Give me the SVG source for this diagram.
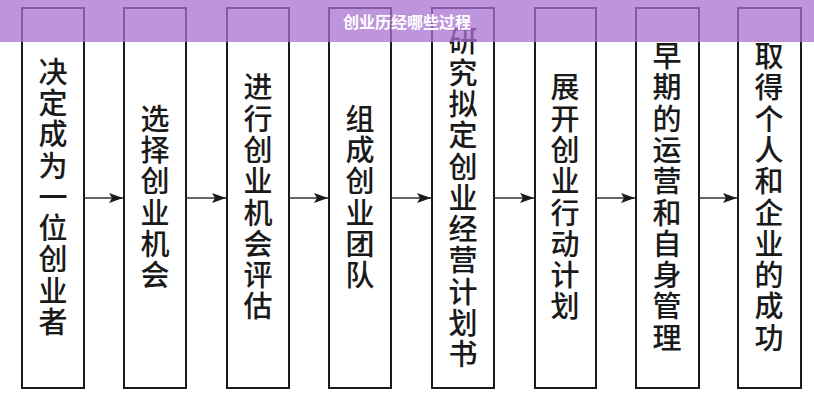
<svg xmlns="http://www.w3.org/2000/svg" width="814" height="400" viewBox="0 0 814 400">
<style>
.box{fill:#fff;stroke:#1a1a1a;stroke-width:2}
.lbl{font-family:"Noto Sans CJK SC","Noto Sans",sans-serif;font-size:29px;font-weight:500;fill:#1a1a1a;writing-mode:vertical-rl;text-anchor:middle;letter-spacing:2.3px}
.conn{stroke:#333;stroke-width:1.6;fill:none}
.title{font-family:"Noto Sans CJK SC","Noto Sans",sans-serif;font-size:16px;font-weight:bold;fill:#fff;text-anchor:middle}
</style>
<defs>
<marker id="ah" viewBox="0 0 14 10" refX="14" refY="5" markerWidth="14" markerHeight="10" markerUnits="userSpaceOnUse" orient="auto">
<path d="M0,0 L14,5 L0,10 L3,5 Z" fill="#1a1a1a"/>
</marker>
</defs>
<rect width="814" height="400" fill="#fff"/>
<g id="n1"><rect class="box" x="22" y="8" width="62" height="380"/><text class="lbl" x="53" y="198">决定成为一位创业者</text></g>
<g id="n2"><rect class="box" x="124" y="8" width="62" height="380"/><text class="lbl" x="155" y="198">选择创业机会</text></g>
<g id="n3"><rect class="box" x="227" y="8" width="62" height="380"/><text class="lbl" x="258" y="198">进行创业机会评估</text></g>
<g id="n4"><rect class="box" x="329" y="8" width="62" height="380"/><text class="lbl" x="360" y="198">组成创业团队</text></g>
<g id="n5"><rect class="box" x="432" y="8" width="62" height="380"/><text class="lbl" x="463" y="199">研究拟定创业经营计划书</text></g>
<g id="n6"><rect class="box" x="535" y="8" width="61" height="380"/><text class="lbl" x="565" y="198">展开创业行动计划</text></g>
<g id="n7"><rect class="box" x="636" y="8" width="63" height="380"/><text class="lbl" x="667" y="198">早期的运营和自身管理</text></g>
<g id="n8"><rect class="box" x="738" y="8" width="63" height="380"/><text class="lbl" x="769" y="198">取得个人和企业的成功</text></g>
<g id="connectors">
<line class="conn" x1="84" y1="198" x2="123" y2="198" marker-end="url(#ah)"/>
<line class="conn" x1="186" y1="198" x2="226" y2="198" marker-end="url(#ah)"/>
<line class="conn" x1="289" y1="198" x2="328" y2="198" marker-end="url(#ah)"/>
<line class="conn" x1="391" y1="198" x2="431" y2="198" marker-end="url(#ah)"/>
<line class="conn" x1="494" y1="198" x2="534" y2="198" marker-end="url(#ah)"/>
<line class="conn" x1="596" y1="198" x2="635" y2="198" marker-end="url(#ah)"/>
<line class="conn" x1="699" y1="198" x2="737" y2="198" marker-end="url(#ah)"/>
</g>
<g id="banner">
<rect x="0" y="0" width="814" height="42" fill="#a870d2" fill-opacity="0.75"/>
<text class="title" x="407" y="28">创业历经哪些过程</text>
</g>
</svg>
